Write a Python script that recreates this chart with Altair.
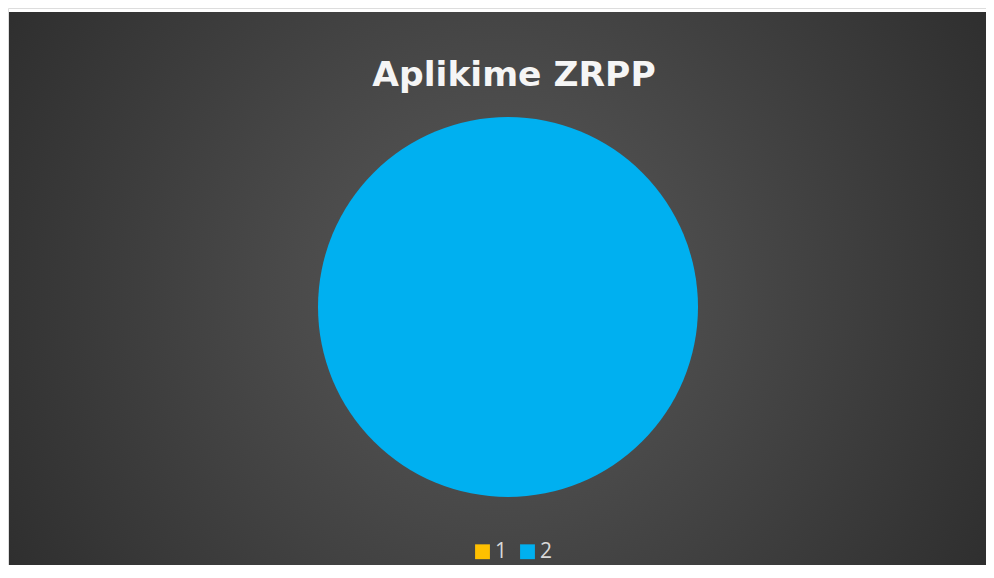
import altair as alt
import pandas as pd

title_text = "Aplikime ZRPP"
categories = ["1", "2"]
values = [0, 100]
colors = ["#FFC000", "#00B0F0"]

W, H = 978, 557

df = pd.DataFrame({"cat": categories, "val": values})

bg = alt.Chart(pd.DataFrame({"a": [0]})).mark_rect(
    fill=alt.RadialGradient(
        gradient="radial",
        x1=0.5, y1=0.5, r1=0.0,
        x2=0.5, y2=0.5, r2=0.72,
        stops=[
            alt.GradientStop(offset=0.0, color="#5a5a5a"),
            alt.GradientStop(offset=0.55, color="#3c3c3c"),
            alt.GradientStop(offset=1.0, color="#242424"),
        ],
    )
).encode(
    x=alt.value(1), x2=alt.value(W), y=alt.value(4), y2=alt.value(H)
)

pie = alt.Chart(df).mark_arc(radius=190).encode(
    theta=alt.Theta("val:Q", stack=True),
    color=alt.Color(
        "cat:N",
        scale=alt.Scale(domain=categories, range=colors),
        sort=categories,
        legend=alt.Legend(
            title=None,
            orient="none",
            legendX=464,
            legendY=533,
            direction="horizontal",
            symbolType="square",
            symbolSize=220,
            symbolStrokeWidth=0,
            labelFontSize=21,
            labelFont="Open Sans",
            labelColor="#d9d9d9",
            labelOffset=2,
            columnPadding=9,
            padding=0,
        ),
    ),
    order=alt.Order("cat:N"),
    x=alt.value(500),
    y=alt.value(299),
)

title = alt.Chart(pd.DataFrame({"t": [title_text]})).mark_text(
    font="DejaVu Sans", fontWeight="bold", fontSize=34.5, color="#f5f5f5",
    align="center", baseline="alphabetic",
).encode(text="t:N", x=alt.value(506), y=alt.value(78))

chart = alt.layer(bg, pie, title).properties(
    width=W, height=H, autosize=alt.AutoSizeParams(type="none"), padding=0
).configure_view(stroke=None).configure(background="#ffffff")

chart.save("out.html", embed_options={"renderer": "svg", "actions": False})
